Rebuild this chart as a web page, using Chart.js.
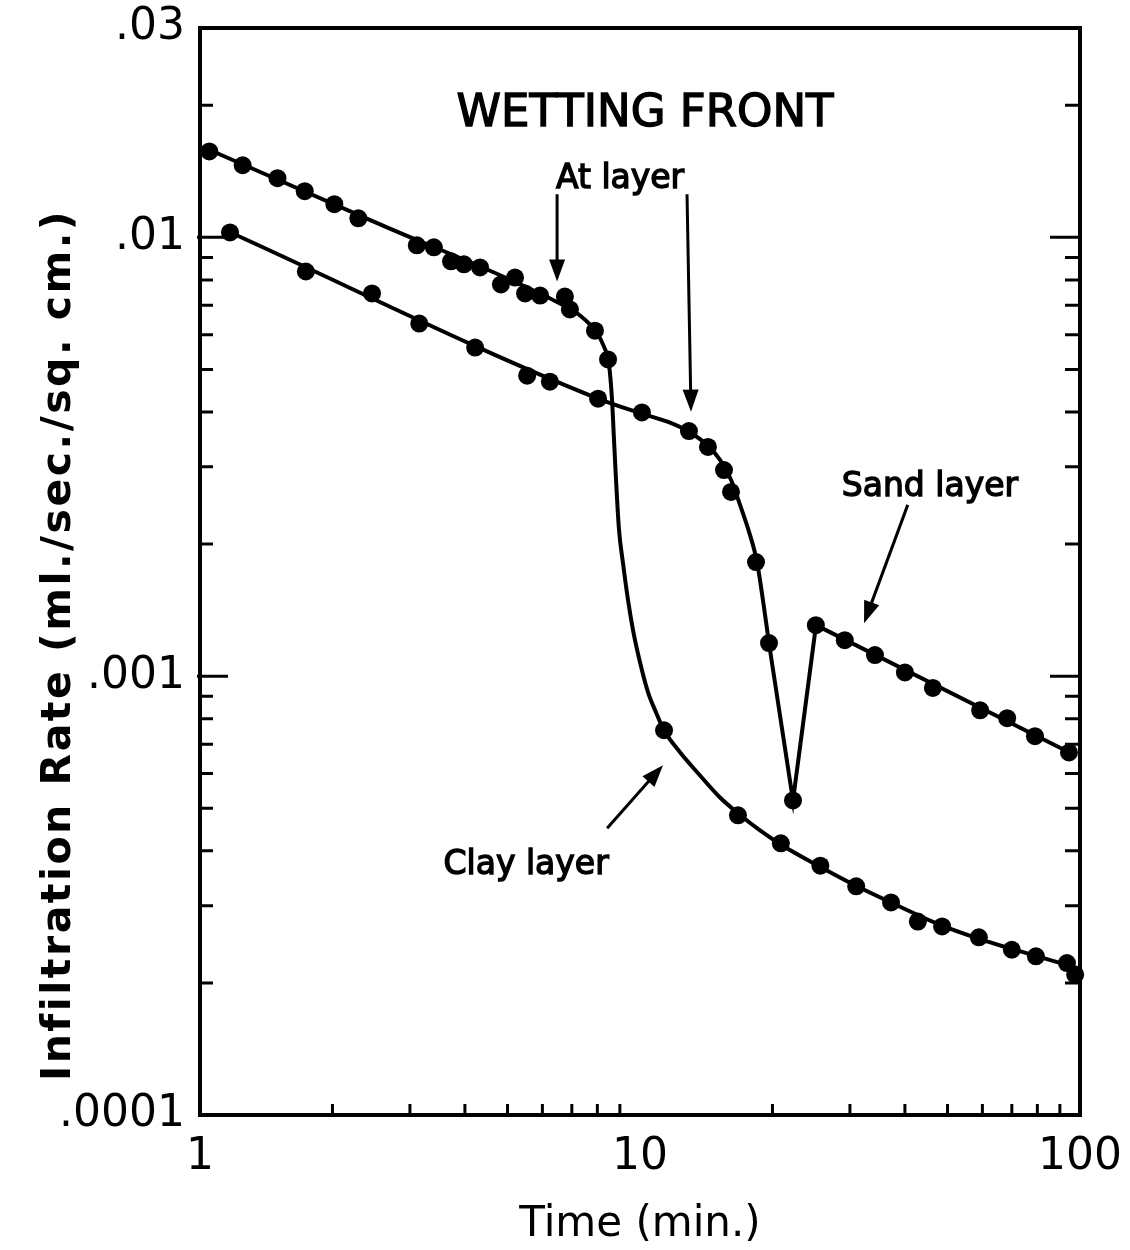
<!DOCTYPE html>
<html>
<head>
<meta charset="utf-8">
<script src="https://cdn.jsdelivr.net/npm/chart.js@4.4.1/dist/chart.umd.min.js"></script>
<style>
  html, body { margin: 0; padding: 0; background: #fff; }
  canvas { display: block; }
</style>
</head>
<body>
<canvas id="chart" width="1130" height="1250"></canvas>
<script>
// measured points, upper run (steady, then drop onto clay curve)
const upperTime = [1.05, 1.25, 1.50, 1.73, 2.02, 2.29, 3.11, 3.40, 3.72, 3.98, 4.33, 4.83, 5.20, 5.48, 5.93, 6.75,
  6.93, 7.90, 8.46, 11.34, 16.7, 20.9, 25.7, 31.0, 37.2, 42.8, 48.6, 58.9, 70.0, 79.4, 93.4, 97.5];
const upperRate = [0.0157, 0.0146, 0.01364, 0.01274, 0.0119, 0.01105, 0.00959, 0.00949, 0.00882, 0.00868, 0.00854,
  0.00781, 0.0081, 0.00745, 0.00737, 0.00733, 0.00685, 0.00613, 0.00527, 0.000753, 0.000482, 0.000416, 0.00037,
  0.000332, 0.000305, 0.000276, 0.000269, 0.000254, 0.000238, 0.00023, 0.000222, 0.000209];

// measured points, lower run (drop, dip, then sand layer)
const lowerTime = [1.17, 1.74, 2.46, 3.15, 4.22, 5.54, 6.24, 8.03, 10.1, 12.92, 14.27, 15.52, 16.1, 18.35, 19.64,
  22.27, 25.1, 29.2, 34.2, 40.0, 46.3, 59.3, 68.3, 79.0, 94.4];
const lowerRate = [0.01026, 0.00836, 0.00745, 0.00636, 0.00561, 0.00484, 0.00469, 0.00429, 0.00399, 0.00362, 0.00333,
  0.00295, 0.00263, 0.00182, 0.00119, 0.000521, 0.001307, 0.001208, 0.001117, 0.00102, 0.00094, 0.000836, 0.000802,
  0.00073, 0.00067];

// hand-drawn fitted curves, vertices
const upperCurveTime = [1.043, 2.566, 6.579, 7.305, 7.903, 8.282, 8.502, 8.638, 8.728, 8.820, 8.960, 9.148, 9.392,
  9.641, 10.0, 10.43, 10.87, 11.34, 12.33, 13.69, 15.20, 16.70, 18.74, 20.92, 25.65, 30.97, 37.19, 48.58, 58.95,
  70.05, 81.13, 97.41];
const upperCurveRate = [0.01588, 0.01071, 0.007069, 0.006637, 0.006134, 0.005638, 0.005129, 0.004267, 0.003458,
  0.002803, 0.002154, 0.001811, 0.001491, 0.001274, 0.001076, 0.000919, 0.000828, 0.000753, 0.000671, 0.000594,
  0.000529, 0.000487, 0.000445, 0.000413, 0.000368, 0.000333, 0.000305, 0.00027, 0.000252, 0.000239, 0.000229,
  0.000217];
const lowerCurveTime = [1.170, 8.027, 10.10, 11.70, 12.92, 14.27, 15.20, 16.10, 16.88, 17.78, 18.45, 19.03, 19.64];
const lowerCurveRate = [0.01027, 0.004290, 0.003964, 0.003781, 0.003606, 0.003351, 0.003113, 0.002803, 0.002457,
  0.002099, 0.001820, 0.001491, 0.001189];
const lowerTailTime = [19.64, 22.27, 25.12, 94.41];
const lowerTailRate = [0.001189, 0.000521, 0.001307, 0.000671];

// axes
const xTickValues = [1, 10, 100];
const xTickLabels = ['1', '10', '100'];
const yTickValues = [0.0001, 0.001, 0.01, 0.03];
const yTickLabels = ['.0001', '.001', '.01', '.03'];
const xMinorTicks = [2, 3, 4, 5, 6, 7, 8, 9, 20, 30, 40, 50, 60, 70, 80, 90];
const yMajorTicks = [0.001, 0.01];
const yMinorTicks = [0.0002, 0.0003, 0.0004, 0.0005, 0.0006, 0.0007, 0.0008, 0.0009,
  0.002, 0.003, 0.004, 0.005, 0.006, 0.007, 0.008, 0.009, 0.02];

const FONT = '"DejaVu Sans", sans-serif';

const pts = (xs, ys) => xs.map((x, i) => ({ x: x, y: ys[i] }));
const lookup = (vals, labels) => v => {
  const i = vals.findIndex(t => Math.abs(t - v) / t < 1e-6);
  return i < 0 ? '' : labels[i];
};

// labels and arrows placed in data coordinates
const notes = [
  { text: 'WETTING FRONT', t: 10.27, r: 0.0196, size: 45 },
  { text: 'At layer', t: 9.01, r: 0.01393, size: 33 },
  { text: 'Sand layer', t: 45.6, r: 0.00276, size: 33 },
  { text: 'Clay layer', t: 5.51, r: 0.000380, size: 33 }
];
const arrows = [
  { t1: 6.48, r1: 0.01254, t2: 6.48, r2: 0.00793 },
  { t1: 12.79, r1: 0.01254, t2: 13.06, r2: 0.004006 },
  { t1: 40.6, r1: 0.002457, t2: 32.3, r2: 0.001321 },
  { t1: 8.42, r1: 0.000450, t2: 11.28, r2: 0.000627 }
];

const decor = {
  id: 'decor',
  afterDraw(chart) {
    const { ctx, chartArea: a, scales: { x, y } } = chart;
    ctx.save();
    ctx.strokeStyle = '#000';
    ctx.fillStyle = '#000';

    // frame
    ctx.lineWidth = 4;
    ctx.strokeRect(a.left, a.top, a.right - a.left, a.bottom - a.top);

    // inward ticks
    ctx.lineWidth = 3;
    ctx.beginPath();
    yMajorTicks.forEach(v => {
      const py = y.getPixelForValue(v);
      ctx.moveTo(a.left - 3, py); ctx.lineTo(a.left + 28, py);
      ctx.moveTo(a.right, py); ctx.lineTo(a.right - 30, py);
    });
    yMinorTicks.forEach(v => {
      const py = y.getPixelForValue(v);
      ctx.moveTo(a.left, py); ctx.lineTo(a.left + 13, py);
      ctx.moveTo(a.right, py); ctx.lineTo(a.right - 15, py);
    });
    xMinorTicks.forEach(v => {
      const px = x.getPixelForValue(v);
      ctx.moveTo(px, a.bottom); ctx.lineTo(px, a.bottom - 11);
    });
    ctx.stroke();

    // y axis title
    ctx.save();
    ctx.translate(70, 645);
    ctx.rotate(-Math.PI / 2);
    ctx.font = 'bold 41px ' + FONT;
    if ('letterSpacing' in ctx) ctx.letterSpacing = '2.5px';
    ctx.textAlign = 'center';
    ctx.textBaseline = 'alphabetic';
    ctx.fillText('Infiltration Rate (ml./sec./sq. cm.)', 0, 0);
    ctx.restore();

    // annotations
    ctx.textAlign = 'center';
    ctx.textBaseline = 'middle';
    ctx.lineWidth = 1.4;
    notes.forEach(n => {
      ctx.font = n.size + 'px ' + FONT;
      const px = x.getPixelForValue(n.t), py = y.getPixelForValue(n.r) + 5;
      ctx.fillText(n.text, px, py);
      ctx.strokeText(n.text, px, py);
    });

    arrows.forEach(ar => {
      const x1 = x.getPixelForValue(ar.t1), y1 = y.getPixelForValue(ar.r1);
      const x2 = x.getPixelForValue(ar.t2), y2 = y.getPixelForValue(ar.r2);
      const ang = Math.atan2(y2 - y1, x2 - x1);
      const len = 22, half = 8;
      ctx.lineWidth = 3;
      ctx.beginPath();
      ctx.moveTo(x1, y1);
      ctx.lineTo(x2 - Math.cos(ang) * len * 0.8, y2 - Math.sin(ang) * len * 0.8);
      ctx.stroke();
      ctx.beginPath();
      ctx.moveTo(x2, y2);
      ctx.lineTo(x2 - Math.cos(ang) * len - Math.sin(ang) * half, y2 - Math.sin(ang) * len + Math.cos(ang) * half);
      ctx.lineTo(x2 - Math.cos(ang) * len + Math.sin(ang) * half, y2 - Math.sin(ang) * len - Math.cos(ang) * half);
      ctx.closePath();
      ctx.fill();
    });
    ctx.restore();
  }
};

const dotStyle = { showLine: false, pointRadius: 9, pointBackgroundColor: '#000', pointBorderWidth: 0, clip: false };
const lineStyle = { pointRadius: 0, borderColor: '#000', borderWidth: 4, fill: false };

new Chart(document.getElementById('chart'), {
  type: 'line',
  data: {
    datasets: [
      { label: 'Upper run', data: pts(upperTime, upperRate), ...dotStyle },
      { label: 'Lower run', data: pts(lowerTime, lowerRate), ...dotStyle },
      { label: 'Upper curve', data: pts(upperCurveTime, upperCurveRate), cubicInterpolationMode: 'monotone', ...lineStyle },
      { label: 'Lower curve', data: pts(lowerCurveTime, lowerCurveRate), cubicInterpolationMode: 'monotone', ...lineStyle },
      { label: 'Lower tail', data: pts(lowerTailTime, lowerTailRate), tension: 0, ...lineStyle }
    ]
  },
  options: {
    responsive: false,
    animation: false,
    events: [],
    layout: { padding: { top: 28, right: 50, left: 0, bottom: 0 } },
    plugins: { legend: { display: false }, tooltip: { enabled: false } },
    scales: {
      x: {
        type: 'logarithmic', min: 1, max: 100, position: 'bottom',
        afterBuildTicks: s => { s.ticks = xTickValues.map(v => ({ value: v })); },
        afterFit: s => { s.height = 135; s.paddingLeft = 0; s.paddingRight = 0; },
        grid: { display: false, drawTicks: false },
        border: { display: false },
        ticks: { font: { family: FONT, size: 44 }, color: '#000', padding: 16, maxRotation: 0, autoSkip: false,
          callback: lookup(xTickValues, xTickLabels) },
        title: { display: true, text: 'Time (min.)', font: { family: FONT, size: 42 }, color: '#000',
          padding: { top: 0, bottom: 0 } }
      },
      y: {
        type: 'logarithmic', min: 0.0001, max: 0.03,
        afterBuildTicks: s => { s.ticks = yTickValues.map(v => ({ value: v })); },
        afterFit: s => { s.width = 200; s.paddingTop = 0; s.paddingBottom = 0; },
        grid: { display: false, drawTicks: false },
        border: { display: false },
        ticks: { font: { family: FONT, size: 44 }, color: '#000', padding: 15, autoSkip: false,
          callback: lookup(yTickValues, yTickLabels) }
      }
    }
  },
  plugins: [decor]
});
</script>
</body>
</html>
